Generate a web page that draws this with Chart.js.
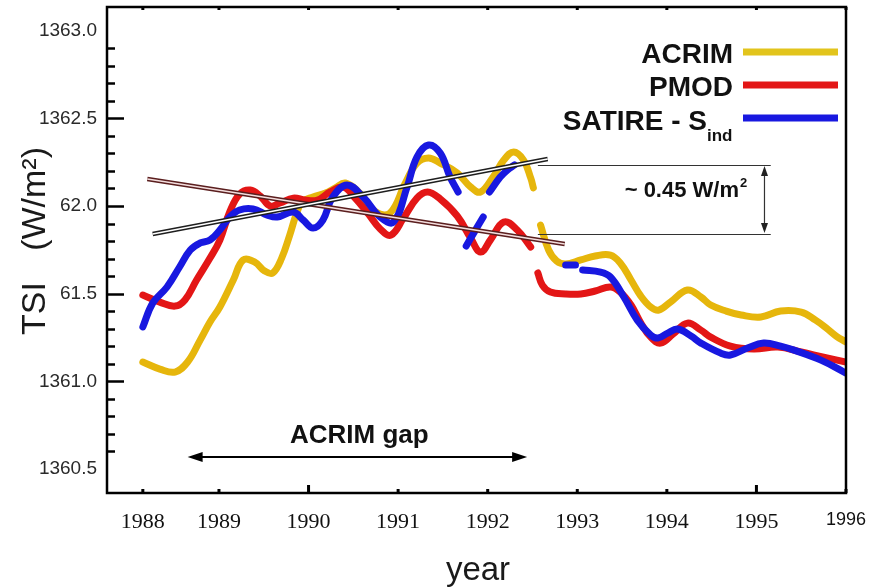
<!DOCTYPE html>
<html>
<head>
<meta charset="utf-8">
<script src="https://cdn.jsdelivr.net/npm/chart.js@4.4.1/dist/chart.umd.min.js"></script>
<style>
  html, body { margin: 0; padding: 0; background: #fff; }
  #wrap { width: 872px; height: 588px; }
</style>
</head>
<body>
<div id="wrap"><canvas id="c" width="872" height="588"></canvas></div>
<script>
// Axis ticks
const xTickYears = [1988.15, 1989, 1990, 1991, 1992, 1993, 1994, 1995, 1996];
const xTickLabels = ['1988', '1989', '1990', '1991', '1992', '1993', '1994', '1995', '1996'];
const yTickValues = [1360.5, 1361.0, 1361.5, 1362.0, 1362.5, 1363.0];
const yTickLabels = ['1360.5', '1361.0', '61.5', '62.0', '1362.5', '1363.0'];

// ACRIM composite (null = data gap)
const acrimYears = [1988.15, 1988.34, 1988.51, 1988.65, 1988.79, 1988.90, 1989.01, 1989.16, 1989.27, 1989.40,
  1989.51, 1989.60, 1989.70, 1989.79, 1989.86, 1989.93, 1990.05, 1990.19, 1990.30, 1990.41,
  1990.58, 1990.74, 1990.91, 1991.08, 1991.21, 1991.34, 1991.47, 1991.66, 1991.81, 1991.92,
  1992.06, 1992.18, 1992.29, 1992.40, 1992.48, 1992.51, 1992.55,
  1992.59, 1992.68, 1992.77, 1992.87, 1993.04, 1993.20, 1993.37, 1993.48, 1993.60, 1993.71,
  1993.82, 1993.91, 1994.04, 1994.23, 1994.38, 1994.49, 1994.66, 1994.83, 1995.05, 1995.27,
  1995.50, 1995.66, 1995.78, 1995.89, 1996.00];
const acrimTsi = [1361.110, 1361.070, 1361.053, 1361.110, 1361.235, 1361.338, 1361.424, 1361.578, 1361.692, 1361.680,
  1361.629, 1361.618, 1361.703, 1361.834, 1361.948, 1362.023, 1362.051, 1362.074, 1362.103, 1362.131,
  1362.070, 1361.970, 1361.960, 1362.130, 1362.245, 1362.274, 1362.245, 1362.188, 1362.108, 1362.080,
  1362.165, 1362.262, 1362.308, 1362.262, 1362.160, 1362.103, null,
  1361.891, 1361.749, 1361.686, 1361.669, 1361.692, 1361.715, 1361.720, 1361.675, 1361.578, 1361.486,
  1361.424, 1361.406, 1361.452, 1361.521, 1361.481, 1361.435, 1361.401, 1361.378, 1361.367, 1361.401,
  1361.395, 1361.349, 1361.304, 1361.258, 1361.224];

// PMOD composite
const pmodYears = [1988.15, 1988.34, 1988.51, 1988.62, 1988.75, 1988.90, 1989.01, 1989.12, 1989.23, 1989.35,
  1989.46, 1989.57, 1989.68, 1989.83, 1989.96, 1990.10, 1990.24, 1990.39, 1990.52, 1990.66,
  1990.80, 1990.92, 1991.06, 1991.21, 1991.33, 1991.47, 1991.66, 1991.81, 1991.92, 1992.03,
  1992.18, 1992.33, 1992.48, 1992.52,
  1992.56, 1992.61, 1992.70, 1992.87, 1993.04, 1993.20, 1993.37, 1993.48, 1993.60, 1993.71,
  1993.82, 1993.93, 1994.07, 1994.23, 1994.38, 1994.49, 1994.71, 1994.97, 1995.24, 1995.50,
  1995.75, 1996.00];
const pmodTsi = [1361.492, 1361.452, 1361.429, 1361.464, 1361.578, 1361.703, 1361.806, 1361.966, 1362.068, 1362.091,
  1362.057, 1362.000, 1362.017, 1362.045, 1362.034, 1362.034, 1362.080, 1362.108, 1362.045, 1361.960,
  1361.869, 1361.834, 1361.931, 1362.045, 1362.080, 1362.040, 1361.943, 1361.817, 1361.737, 1361.806,
  1361.909, 1361.863, 1361.766, null,
  1361.618, 1361.549, 1361.509, 1361.498, 1361.498, 1361.515, 1361.538, 1361.509, 1361.435, 1361.332,
  1361.252, 1361.218, 1361.270, 1361.332, 1361.292, 1361.252, 1361.201, 1361.184, 1361.195, 1361.167,
  1361.138, 1361.110];

// SATIRE-S reconstruction
const satireYears = [1988.15, 1988.26, 1988.42, 1988.56, 1988.68, 1988.79, 1988.90, 1989.01, 1989.12, 1989.23,
  1989.38, 1989.54, 1989.65, 1989.83, 1989.94, 1990.05, 1990.16, 1990.27, 1990.43, 1990.61,
  1990.80, 1990.95, 1991.10, 1991.21, 1991.34, 1991.47, 1991.58, 1991.67, 1991.72,
  1991.76, 1991.85, 1991.95, 1991.98,
  1992.02, 1992.14, 1992.22, 1992.30, 1992.60,
  1992.87, 1992.98, 1993.02,
  1993.06, 1993.26, 1993.37, 1993.52, 1993.67, 1993.82, 1993.90, 1994.01, 1994.12, 1994.27,
  1994.38, 1994.60, 1994.71, 1994.90, 1995.08, 1995.27, 1995.42, 1995.72, 1996.00];
const satireTsi = [1361.310, 1361.446, 1361.538, 1361.652, 1361.749, 1361.789, 1361.806, 1361.863, 1361.937, 1361.977,
  1361.983, 1361.948, 1361.937, 1361.966, 1361.920, 1361.874, 1361.920, 1362.051, 1362.120, 1362.051,
  1361.937, 1361.909, 1362.108, 1362.279, 1362.348, 1362.302, 1362.165, 1362.080, null,
  1361.772, 1361.851, 1361.937, null,
  1362.080, 1362.165, 1362.205, 1362.234, null,
  1361.663, 1361.663, null,
  1361.635, 1361.623, 1361.595, 1361.481, 1361.349, 1361.264, 1361.247, 1361.275, 1361.298, 1361.258,
  1361.218, 1361.161, 1361.150, 1361.190, 1361.218, 1361.201, 1361.178, 1361.121, 1361.047];

// Linear trends across the ACRIM gap
const pmodTrendYears = [1988.20, 1992.86];
const pmodTrendTsi = [1362.154, 1361.783];
const satireTrendYears = [1988.26, 1992.67];
const satireTrendTsi = [1361.840, 1362.268];

// Annotations (data units)
const spreadLevels = [1362.234, 1361.840];
const spreadFrom = 1992.56, spreadTo = 1995.16, spreadArrowYear = 1995.09;
const gapFrom = 1988.65, gapTo = 1992.44, gapLevel = 1360.568;

const COLORS = { acrim: '#e6b60c', pmod: '#e31616', satire: '#1818e0' };
const SANS = '"Liberation Sans", Arial, sans-serif';
const SERIF = '"Liberation Serif", "Times New Roman", serif';

const pts = (xs, ys) => xs.map((x, i) => ({ x: x, y: ys[i] }));

function curve(label, xs, ys, color) {
  return {
    label: label, data: pts(xs, ys), borderColor: color, backgroundColor: color,
    borderWidth: 7, pointRadius: 0, tension: 0.4,
    borderCapStyle: 'round', borderJoinStyle: 'round', spanGaps: false, fill: false
  };
}
function trend(xs, ys, color, width) {
  return {
    label: '', data: pts(xs, ys), borderColor: color, borderWidth: width,
    pointRadius: 0, tension: 0, fill: false, borderCapStyle: 'butt'
  };
}

function arrowHead(ctx, x, y, ang, len, half) {
  ctx.save();
  ctx.translate(x, y);
  ctx.rotate(ang);
  ctx.beginPath();
  ctx.moveTo(0, 0);
  ctx.lineTo(-len, -half);
  ctx.lineTo(-len, half);
  ctx.closePath();
  ctx.fill();
  ctx.restore();
}

const whiteBg = {
  id: 'whiteBg',
  beforeDraw(chart) {
    const c = chart.ctx;
    c.save(); c.fillStyle = '#fff'; c.fillRect(0, 0, chart.width, chart.height); c.restore();
  }
};

const decorations = {
  id: 'decorations',
  afterDraw(chart) {
    const ctx = chart.ctx;
    const a = chart.chartArea;
    const xs = chart.scales.x, ys = chart.scales.y;
    ctx.save();

    // frame
    ctx.strokeStyle = '#000';
    ctx.lineWidth = 2.5;
    ctx.strokeRect(a.left, a.top, a.right - a.left, a.bottom - a.top);

    // y ticks pointing inward
    ctx.lineWidth = 2.5;
    for (let k = 6; k <= 29; k++) {
      const py = Math.round(ys.getPixelForValue(1360 + k / 10)) + 0.5;
      const len = (k % 5 === 0) ? 17 : 8;
      ctx.beginPath(); ctx.moveTo(a.left, py); ctx.lineTo(a.left + len, py); ctx.stroke();
    }

    // x ticks (bottom and top)
    ctx.fillStyle = '#000';
    xTickLabels.forEach((lab, i) => {
      const px = xs.getPixelForValue(xTickYears[i]);
      const major = lab === '1990' || lab === '1995';
      const h = major ? 8 : 4;
      ctx.fillRect(px - 1.5, a.bottom - h, 3, h);
      ctx.fillRect(px - 1.5, a.top, 3, 3);
    });

    // axis titles
    ctx.fillStyle = '#1a1a1a';
    ctx.font = '34px ' + SANS;
    ctx.textBaseline = 'alphabetic';
    ctx.save();
    ctx.translate(45, 335);
    ctx.rotate(-Math.PI / 2);
    ctx.textAlign = 'left';
    ctx.fillText('TSI', 0, 0);
    ctx.textAlign = 'right';
    ctx.fillText('(W/m\u00B2)', 335 - 147, 0);
    ctx.restore();
    ctx.textAlign = 'center';
    ctx.font = '33px ' + SANS;
    ctx.fillText('year', 478, 580);

    // legend
    const rows = [
      { text: 'ACRIM', color: '#e2c41c', ly: 52, base: 63 },
      { text: 'PMOD', color: COLORS.pmod, ly: 85, base: 96 },
      { text: 'SATIRE - S', color: COLORS.satire, ly: 118, base: 130 }
    ];
    rows.forEach((r, i) => {
      ctx.fillStyle = '#111';
      ctx.font = 'bold 28px ' + SANS;
      ctx.textAlign = 'right';
      ctx.fillText(r.text, i === 2 ? 707 : 733, r.base);
      ctx.strokeStyle = r.color;
      ctx.lineWidth = 7;
      ctx.lineCap = 'butt';
      ctx.beginPath(); ctx.moveTo(743, r.ly); ctx.lineTo(838, r.ly); ctx.stroke();
    });
    ctx.fillStyle = '#111';
    ctx.font = 'bold 17px ' + SANS;
    ctx.textAlign = 'left';
    ctx.fillText('ind', 707, 141);

    // spread between the two trends
    ctx.strokeStyle = '#333';
    ctx.fillStyle = '#222';
    ctx.lineWidth = 1.2;
    const sx0 = xs.getPixelForValue(spreadFrom), sx1 = xs.getPixelForValue(spreadTo);
    const ax = xs.getPixelForValue(spreadArrowYear);
    const yTop = ys.getPixelForValue(spreadLevels[0]), yBot = ys.getPixelForValue(spreadLevels[1]);
    spreadLevels.forEach(v => {
      const py = Math.round(ys.getPixelForValue(v)) + 0.5;
      ctx.beginPath(); ctx.moveTo(sx0, py); ctx.lineTo(sx1, py); ctx.stroke();
    });
    ctx.beginPath(); ctx.moveTo(ax, yTop + 6); ctx.lineTo(ax, yBot - 6); ctx.stroke();
    arrowHead(ctx, ax, yTop + 1, -Math.PI / 2, 10, 3.5);
    arrowHead(ctx, ax, yBot - 1, Math.PI / 2, 10, 3.5);
    ctx.fillStyle = '#111';
    ctx.font = 'bold 22px ' + SANS;
    ctx.textAlign = 'right';
    ctx.fillText('~ 0.45 W/m', 739, 197);
    ctx.font = 'bold 13px ' + SANS;
    ctx.textAlign = 'left';
    ctx.fillText('2', 740, 187);

    // ACRIM gap arrow
    const g0 = xs.getPixelForValue(gapFrom), g1 = xs.getPixelForValue(gapTo);
    const gy = ys.getPixelForValue(gapLevel);
    ctx.strokeStyle = '#000';
    ctx.fillStyle = '#000';
    ctx.lineWidth = 2;
    ctx.beginPath(); ctx.moveTo(g0 + 8, gy); ctx.lineTo(g1 - 8, gy); ctx.stroke();
    arrowHead(ctx, g0, gy, Math.PI, 15, 5);
    arrowHead(ctx, g1, gy, 0, 15, 5);
    ctx.fillStyle = '#111';
    ctx.font = 'bold 26px ' + SANS;
    ctx.textAlign = 'center';
    ctx.fillText('ACRIM gap', (g0 + g1) / 2 + 2, 443);

    ctx.restore();
  }
};

new Chart(document.getElementById('c'), {
  type: 'line',
  data: {
    datasets: [
      trend(satireTrendYears, satireTrendTsi, '#ffffff', 1.5),
      trend(satireTrendYears, satireTrendTsi, '#1e1e1e', 4.5),
      trend(pmodTrendYears, pmodTrendTsi, '#f4dede', 1.5),
      trend(pmodTrendYears, pmodTrendTsi, '#5a1e1e', 4.5),
      curve('SATIRE - S', satireYears, satireTsi, COLORS.satire),
      curve('PMOD', pmodYears, pmodTsi, COLORS.pmod),
      curve('ACRIM', acrimYears, acrimTsi, COLORS.acrim)
    ]
  },
  options: {
    responsive: false,
    devicePixelRatio: 1,
    animation: false,
    events: [],
    layout: { padding: { left: 0, right: 26, top: 7, bottom: 0 } },
    plugins: { legend: { display: false }, tooltip: { enabled: false }, title: { display: false } },
    scales: {
      x: {
        type: 'linear', position: 'bottom', min: 1987.75, max: 1996,
        grid: { display: false, drawTicks: false }, border: { display: false },
        afterBuildTicks: s => { s.ticks = xTickYears.map(v => ({ value: v })); },
        afterFit: s => { s.height = 95; s.paddingLeft = 0; s.paddingRight = 0; },
        ticks: {
          autoSkip: false, maxRotation: 0, padding: 16, color: '#111',
          callback: (v, i) => xTickLabels[i],
          font: ctx => (ctx.index === xTickLabels.length - 1)
            ? { family: SANS, size: 18 }
            : { family: SERIF, size: 22 }
        }
      },
      y: {
        type: 'linear', position: 'left', min: 1360.363, max: 1363.135,
        grid: { display: false, drawTicks: false }, border: { display: false },
        afterBuildTicks: s => { s.ticks = yTickValues.map(v => ({ value: v })); },
        afterFit: s => { s.width = 107; s.paddingTop = 0; s.paddingBottom = 0; },
        ticks: {
          autoSkip: false, padding: 10, color: '#2a2a2a',
          callback: (v, i) => yTickLabels[i],
          font: { family: SANS, size: 19 }
        }
      }
    }
  },
  plugins: [whiteBg, decorations]
});
</script>
</body>
</html>
